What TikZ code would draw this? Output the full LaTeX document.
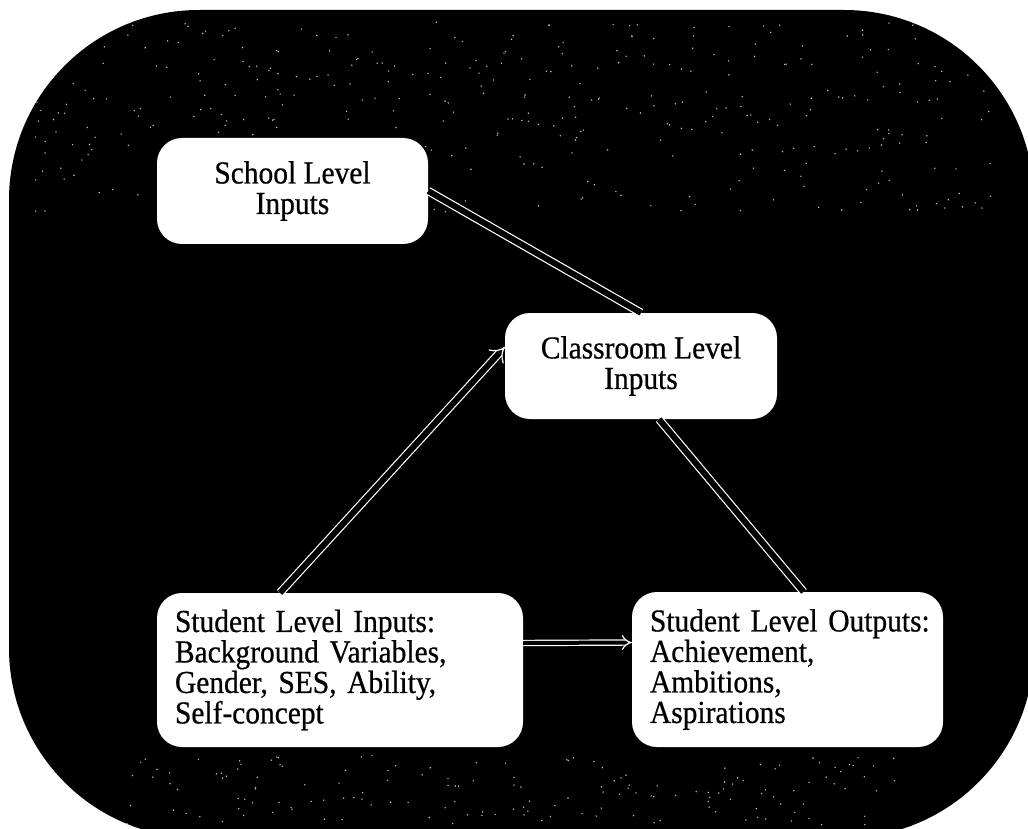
\documentclass[tikz,border=0pt]{standalone}
\usepackage{fontspec}
\setmainfont{Liberation Serif}[FakeStretch=0.92,FakeBold=0.6]
\usetikzlibrary{arrows.meta}

\begin{document}
\begin{tikzpicture}[x=1pt,y=-1pt,
    level/.style={fill=white, rounded corners=25pt, inner sep=0pt,
      font=\fontsize{32}{30.5}\selectfont},
    link/.style={draw=white, double=black, line width=1.2pt, double distance=6pt}]
  \useasboundingbox (0,0) rectangle (1028,829);
  \fill[black, rounded corners=190pt] (9,10) rectangle (1034,838);
  % scan speckle
  \begin{scope}
    \clip[rounded corners=190pt] (9,10) rectangle (1034,838);
    \pgfmathsetseed{11}
    \foreach \i in {1,...,380}
      \fill[white!75!black] (30+970*rnd, 22+190*rnd) circle (0.8pt);
    \foreach \i in {1,...,160}
      \fill[white!75!black] (120+780*rnd, 755+70*rnd) circle (0.8pt);
  \end{scope}
  \node[level, minimum width=271pt, minimum height=106pt, align=center] (school) at (292.5,191) {School Level\\Inputs};
  \node[level, minimum width=272pt, minimum height=106pt, align=center] (class) at (641,366) {Classroom Level\\Inputs};
  \node[level, minimum width=366pt, minimum height=154pt, text width=330pt, align=left] (stin) at (340,670)
    {\mbox{Student Level Inputs:}\\\mbox{Background Variables,}\\\mbox{Gender, SES, Ability,}\\Self-concept};
  \node[level, minimum width=311pt, minimum height=155pt, text width=275pt, align=left] (stout) at (787.5,669.5)
    {\mbox{Student Level Outputs:}\\Achievement,\\Ambitions,\\Aspirations};
  \draw[link] (school.east) to (class.north);
  \draw[link, -Implies] ([xshift=-60pt]stin.north) to ([yshift=19pt]class.west);
  \draw[link] ([xshift=18pt]class.south) to ([xshift=16pt]stout.north);
  \draw[link, double distance=4pt, -Implies] ([yshift=27pt]stin.east) to ([yshift=27pt]stout.west);
\end{tikzpicture}
\end{document}
